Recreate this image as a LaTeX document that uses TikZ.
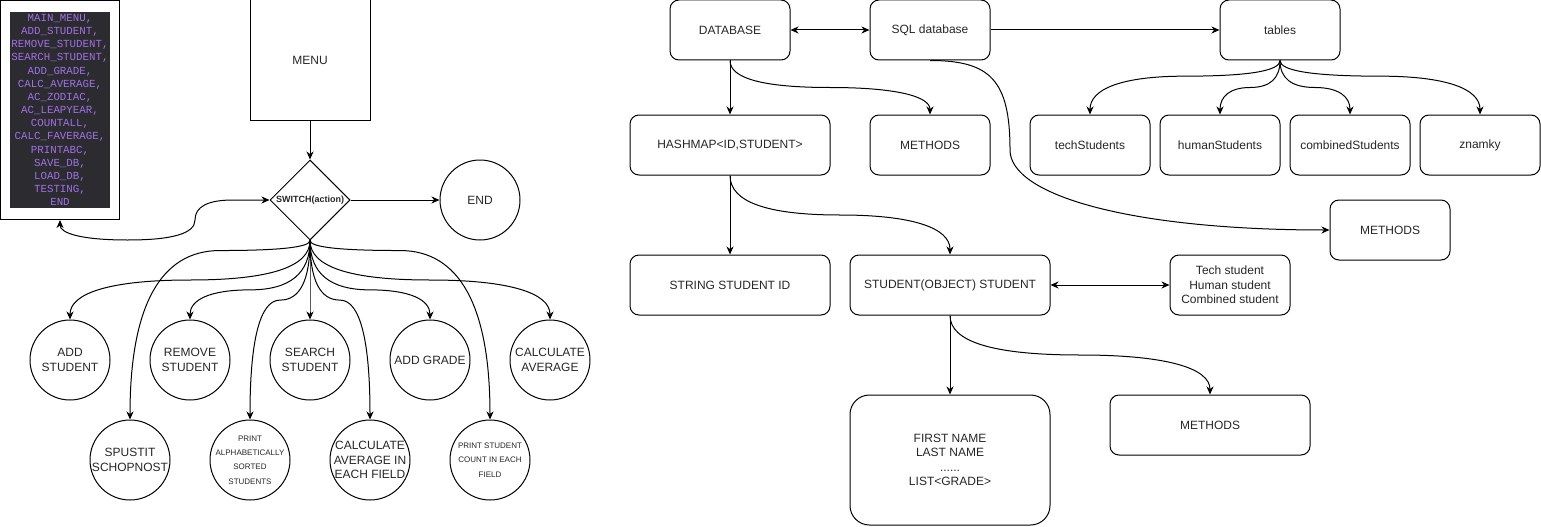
\documentclass[tikz,border=0pt]{standalone}
\usepackage{fontspec}
\setmainfont{Liberation Sans}
\setmonofont{Liberation Mono}
\usetikzlibrary{arrows.meta,shapes.geometric,calc}
\definecolor{enumbg}{RGB}{43,43,48}
\definecolor{enumfg}{RGB}{160,112,230}
\tikzset{
  >={Stealth[length=8pt,width=7pt,inset=2.5pt]},
  hlevel/.store in=\hlev, hlevel=0.5,
  % vertical out, horizontal middle, vertical in
  vcurve/.style={to path={let \p1=(\tikztostart), \p2=(\tikztotarget),
      \p3=($(\tikztostart)!\hlev!(\tikztotarget)$) in
      .. controls (\x1,{\y1+(\y3-\y1)*2/3}) and ({\x1+(\x2-\x1)/6},\y3) .. ({(\x1+\x2)/2},\y3)
      .. controls ({\x2-(\x2-\x1)/6},\y3) and (\x2,{\y3+(\y2-\y3)/3}) .. (\tikztotarget)}},
  box/.style={draw, rounded corners=9pt, minimum width=120pt, minimum height=60pt, inner sep=0pt, align=center},
  wide/.style={box, minimum width=200pt},
  proc/.style={draw, circle, minimum size=80pt, inner sep=-8pt, align=center},
  smallproc/.style={proc, font=\fontsize{8}{14.3}\selectfont},
  switch/.style={draw, diamond, aspect=1, minimum width=80pt, minimum height=80pt, inner sep=0pt, font=\bfseries\fontsize{9}{11}\selectfont},
}

\begin{document}
\begin{tikzpicture}[x=1pt, y=-1pt, line width=1pt, font=\fontsize{12}{14.4}\selectfont, every node/.append style={text=black!85}]
  \useasboundingbox (0,0) rectangle (1541,527);

  % menu side
  \node[draw, minimum width=119pt, minimum height=219pt, inner sep=0pt] (enum) at (60,110) {};
  \node[fill=enumbg, text=enumfg, minimum width=100pt, minimum height=196pt, inner sep=0pt, align=center,
        font=\ttfamily\fontsize{10.8}{13.15}\selectfont] (list) at (60,110)
    {MAIN\_MENU,\\ADD\_STUDENT,\\REMOVE\_STUDENT,\\SEARCH\_STUDENT,\\ADD\_GRADE,\\CALC\_AVERAGE,\\AC\_ZODIAC,\\AC\_LEAPYEAR,\\COUNTALL,\\CALC\_FAVERAGE,\\PRINTABC,\\SAVE\_DB,\\LOAD\_DB,\\TESTING,\\END};
  \node[draw, minimum width=120pt, minimum height=120pt] (menu) at (310,60) {MENU};
  \node[switch] (sw) at (310,200) {SWITCH(action)};
  \node[proc] (end) at (480,200) {END};

  \node[proc] (add) at (70,360) {ADD\\STUDENT};
  \node[proc] (remove) at (190,360) {REMOVE\\STUDENT};
  \node[proc] (search) at (310,360) {SEARCH\\STUDENT};
  \node[proc] (grade) at (430,360) {ADD GRADE};
  \node[proc] (avg) at (550,360) {CALCULATE\\AVERAGE};
  \node[proc] (skill) at (130,460) {SPUSTIT\\SCHOPNOST};
  \node[smallproc] (abc) at (250,460) {PRINT\\ALPHABETICALLY\\SORTED\\STUDENTS};
  \node[proc] (favg) at (370,460) {CALCULATE\\AVERAGE IN\\EACH FIELD};
  \node[smallproc] (count) at (490,460) {PRINT STUDENT\\COUNT IN EACH\\FIELD};

  \draw[->] (menu) -- (sw);
  \draw[->] (sw) -- (end);
  \draw[<->] (enum.south) .. controls +(0,13.5) and +(-45,0) .. (127.5,240)
    .. controls +(45,0) and +(0,13.5) .. (195,220)
    .. controls +(0,-13.5) and +(-25,0) .. (233,200) -- (sw.west);
  \foreach \t/\lv in {add/0.5, remove/0.625, search/0.5, grade/0.625, avg/0.5,
                      skill/0.056, abc/0.333, favg/0.333, count/0.056}
    \draw[->] (sw.south) to[vcurve, hlevel=\lv] (\t.north);

  % database side
  \node[box] (db) at (730,30) {DATABASE};
  \node[box] (sql) at (930,30) {SQL database};
  \node[box] (tables) at (1280,30) {tables};
  \node[wide] (hash) at (730,145) {HASHMAP<ID,STUDENT>};
  \node[box] (meth1) at (930,145) {METHODS};
  \node[box] (tech) at (1090,145) {techStudents};
  \node[box] (human) at (1220,145) {humanStudents};
  \node[box] (comb) at (1350,145) {combinedStudents};
  \node[box] (znamky) at (1480,145) {znamky};
  \node[box] (meth2) at (1390,230) {METHODS};
  \node[wide] (sid) at (730,285) {STRING STUDENT ID};
  \node[wide] (stud) at (950,285) {STUDENT(OBJECT) STUDENT};
  \node[box] (kinds) at (1230,285) {Tech student\\Human student\\Combined student};
  \node[wide, minimum height=130pt, rounded corners=19.5pt] (fields) at (950,460) {FIRST NAME\\LAST NAME\\......\\LIST<GRADE>};
  \node[wide] (meth3) at (1210,425) {METHODS};

  \draw[<->] (db) -- (sql);
  \draw[->] (sql) -- (tables);
  \draw[->] (db.south) -- (hash.north);
  \draw[->] (db.south) to[vcurve, hlevel=0.5] (meth1.north);
  \draw[->] (sql.south) .. controls +(60,0) and +(0,-70) .. (1010,150)
    .. controls +(0,45) and +(-200,0) .. (meth2.west);
  \foreach \t/\lv in {tech/0.29, human/0.5, comb/0.5, znamky/0.29}
    \draw[->] (tables.south) to[vcurve, hlevel=\lv] (\t.north);
  \draw[->] (hash.south) -- (sid.north);
  \draw[->] (hash.south) to[vcurve, hlevel=0.5] (stud.north);
  \draw[<->] (stud) -- (kinds);
  \draw[->] (stud.south) -- (fields.north);
  \draw[->] (stud.south) to[vcurve, hlevel=0.5] (meth3.north);
\end{tikzpicture}
\end{document}
